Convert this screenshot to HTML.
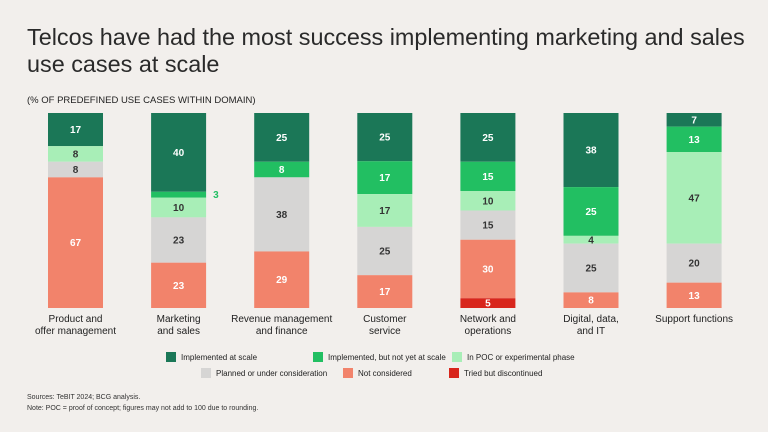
<!DOCTYPE html>
<html><head><meta charset="utf-8"><style>
body{margin:0;background:#f2efec;font-family:"Liberation Sans",sans-serif;}
#wrap{position:relative;width:768px;height:432px;overflow:hidden;background:#f2efec;}
.t{position:absolute;color:#222;}
</style></head><body>
<div id="wrap">
<div class="t" style="left:27px;top:24px;font-size:23.4px;line-height:27px;width:735px;color:#2a2a2a;">Telcos have had the most success implementing marketing and sales use cases at scale</div>
<div class="t" style="left:27px;top:95px;font-size:9.5px;color:#222;">(% OF PREDEFINED USE CASES WITHIN DOMAIN)</div>
<svg id="chart" width="768" height="432" style="position:absolute;left:0;top:0"></svg>
<div class="t" style="left:27px;top:392px;font-size:7px;line-height:11px;color:#333;">Sources: TeBIT 2024; BCG analysis.<br>Note: POC = proof of concept; figures may not add to 100 due to rounding.</div>
</div>
<script>
const categories=["Product and|offer management","Marketing|and sales","Revenue management|and finance","Customer|service","Network and|operations","Digital, data,|and IT","Support functions"];
const seriesNames=["Implemented at scale","Implemented, but not yet at scale","In POC or experimental phase","Planned or under consideration","Not considered","Tried but discontinued"];
const atScale=[17,40,25,25,25,38,7];
const notYetScale=[0,3,8,17,15,25,13];
const inPoc=[8,10,0,17,10,4,47];
const planned=[8,23,38,25,15,25,20];
const notConsidered=[67,23,29,17,30,8,13];
const triedDiscontinued=[0,0,0,0,5,0,0];
const series=[atScale,notYetScale,inPoc,planned,notConsidered,triedDiscontinued];
const colors=["#1b7757","#22bf62","#a8eeb7","#d6d5d4","#f2836b","#d8261c"];
const textColors=["#fff","#fff","#333","#333","#fff","#fff"];
const svg=document.getElementById('chart');
const NS="http://www.w3.org/2000/svg";
const top0=113,bottom0=308,x0=48,step=103.1,bw=55;
function xPos(i){return x0+i*step;}
function yScale(v,total){return v/total*(bottom0-top0);}
categories.forEach((c,i)=>{
  let total=series.reduce((s,a)=>s+a[i],0);
  let y=top0;
  series.forEach((arr,k)=>{
    const v=arr[i]; if(!v) return;
    const h=yScale(v,total);
    const r=document.createElementNS(NS,'rect');
    r.setAttribute('x',xPos(i));r.setAttribute('y',y);r.setAttribute('width',bw);r.setAttribute('height',h);r.setAttribute('fill',colors[k]);
    
    
    svg.appendChild(r);
    const t=document.createElementNS(NS,'text');
    if(h<7){t.setAttribute('x',xPos(i)+bw+7);t.setAttribute('fill',colors[k]);}
    else{t.setAttribute('x',xPos(i)+bw/2);t.setAttribute('fill',textColors[k]);t.setAttribute('text-anchor','middle');}
    t.setAttribute('y',y+h/2+3.5);t.setAttribute('font-size','10');t.setAttribute('font-weight','bold');t.setAttribute('font-family','Liberation Sans, sans-serif');
    t.textContent=v;
    
    
    svg.appendChild(t);
    y+=h;
  });
  c.split('|').forEach((ln,j)=>{
    const t=document.createElementNS(NS,'text');
    t.setAttribute('x',xPos(i)+bw/2);t.setAttribute('y',322+j*12);t.setAttribute('text-anchor','middle');
    t.setAttribute('font-size','10');t.setAttribute('fill','#222');t.setAttribute('font-family','Liberation Sans, sans-serif');
    t.textContent=ln;
    
    
    svg.appendChild(t);
  });
});
const legendPos=[[166,357],[313,357],[452,357],[201,373],[343,373],[449,373]];
seriesNames.forEach((n,k)=>{
  const [lx,ly]=legendPos[k];
  const r=document.createElementNS(NS,'rect');
  r.setAttribute('x',lx);r.setAttribute('y',ly-5);r.setAttribute('width',10);r.setAttribute('height',10);r.setAttribute('fill',colors[k]);
  
  
  svg.appendChild(r);
  const t=document.createElementNS(NS,'text');
  t.setAttribute('x',lx+15);t.setAttribute('y',ly+3);t.setAttribute('font-size','8');t.setAttribute('fill','#222');t.setAttribute('font-family','Liberation Sans, sans-serif');
  t.textContent=n;
  
  
  svg.appendChild(t);
});
</script>
</body></html>
